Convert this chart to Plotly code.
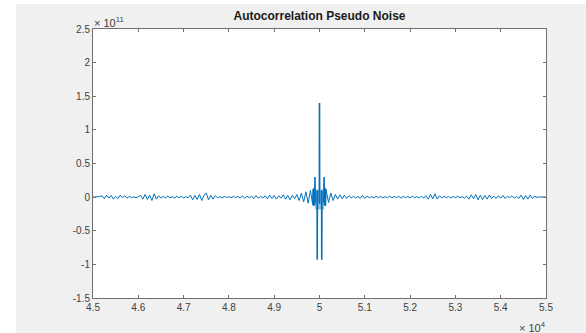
import numpy as np
import plotly.graph_objects as go

# ---- data (values in units of 1e9) ----
left_noise = [0, 0.3, -0.5, 0.8,
              2, -2.5, 3, -1.5, 2.5, -3, 1, -2, 3, -1, 2, -1.5,
              1, -0.8, 0.5, -1, 0.8,
              2.5, -3, 4, -3.5, 3,
              -5, 5, -3, 2,
              -1.5, 1, -1.2, 1.5, -1, 0.8, -1.5, 1.2, -0.8, 1, -1.2, 0.8, -1,
              3, -4, 2.5, -3.5, 4, -5, 3, 6, -4, 3, -3, 2,
              -1, 0.8, -1.2, 1, -0.6, 0.8, -1, 1.2, -0.8, 1, -1.5, 2, -1.8, 1.5, -1, 1.2, -2, 2.5, -1.5, 1, -1.2,
              2, -2.5, 3, -2, 2.5, -3, 2, -1.5, 3.5, -3, 2.5, -4, 3, -2.5,
              4, -5, 6, -7, 8, -9, 10,
              -11]
right_noise = [9, -8, 6, -5, 4,
               -3, 3.5, -2.5, 3, -2, 2,
               -1, 1.2, -1.5, 1, -2, 2.5, -2, 1.5,
               -1, 0.8, -1, 1.2, -0.8, 1, -1.2, 0.8, -1, 1.5, -1.2, 1, -0.8, 1.2, -1.5, 1, -0.8, 1, -1.2, 1.5, -1, 0.8, -1.2, 1, -1.5, 2,
               -3, 4, -2.5, 5, -3, 2,
               -1, 1.2, -0.8, 1, -1.5, 1, -0.8, 1.2, -1, 0.8, -1.5, 1.5,
               -3, 3.5, -2.5, 4, -4, 3, -3.5, 2.5, -3, 3, -2,
               1.5, -2, 2, -1.5, 2.5, -2, 1.5, -1, 2, -1.5, 1, -2,
               3, -3.5, 2.5, -3, 3, -2, 1.5,
               -0.5, 0.3, -0.2, 0.2, 0]

left_start, right_start, step = 45000, 50150, 50
center = 50000

band_lags = [-95, -90, -85, -80, -75, -70, -65, -60, -55, -50, -45, -40, -35, -30, -25,
             -20, -15, -10, -5, 0, 5, 10, 15, 20, 25, 30, 35, 40, 45, 50, 55, 60, 65,
             70, 75, 80, 85, 90, 95]
band_vals = [11, -18, 11, -18, 11, -18, 11, -18, 11, -18, 11, -18, 11, -18, 11,
             -18, 11, -18, 11, -18, 11, -18, 11, -18, 11, -18, 11, -18, 11, -18, 11, -18, 11,
             -18, 11, -18, 11, -18, 11]

spike_lags = [-150, -140, -130, -120, -110, -104, -100, -96, None,
              -53, -50, -47, None, -3, 0, 3, None, 47, 50, 53, None,
              96, 100, 104, 110, 120, 130, 140, 150]
spike_vals = [-11, 12, -13, 14, -12, -5, 30, -8, None,
              10, -93, 10, None, -10, 140, -10, None, 10, -93, 10, None,
              -8, 30, -5, -12, 14, -13, 12, 9]

x_ticks = [45000, 46000, 47000, 48000, 49000, 50000, 51000, 52000, 53000, 54000, 55000]
x_labels = ['4.5', '4.6', '4.7', '4.8', '4.9', '5', '5.1', '5.2', '5.3', '5.4', '5.5']
y_ticks = [-1.5e11, -1e11, -0.5e11, 0, 0.5e11, 1e11, 1.5e11, 2e11, 2.5e11]
y_labels = ['-1.5', '-1', '-0.5', '0', '0.5', '1', '1.5', '2', '2.5']

# ---- build arrays ----
scale = 1e9
lx = [left_start + step * i for i in range(len(left_noise))]
rx = [right_start + step * i for i in range(len(right_noise))]
noise_x = np.array(lx + [None] + rx, dtype=float)
noise_y = np.array(left_noise + [None] + right_noise, dtype=float) * scale

band_x = np.array(band_lags, dtype=float) + center
band_y = np.array(band_vals, dtype=float) * scale
spike_x = np.array(spike_lags, dtype=float) + center
spike_y = np.array(spike_vals, dtype=float) * scale

blue = '#0072BD'
fig = go.Figure()
fig.add_trace(go.Scatter(x=band_x, y=band_y, mode='lines',
                         line=dict(color='#8cbde2', width=1), hoverinfo='skip'))
fig.add_trace(go.Scatter(x=noise_x, y=noise_y, mode='lines',
                         line=dict(color=blue, width=1), connectgaps=False))
fig.add_trace(go.Scatter(x=spike_x, y=spike_y, mode='lines',
                         line=dict(color=blue, width=1.6), connectgaps=False))

axis_col = '#707070'
font_col = '#404040'
fam = 'Liberation Sans, Arial, Helvetica, sans-serif'
common = dict(showgrid=False, zeroline=False, showline=True, linecolor=axis_col,
              linewidth=1, mirror='ticks', ticks='inside', ticklen=3,
              tickcolor=axis_col, tickwidth=1,
              tickfont=dict(family=fam, size=10, color=font_col))
fig.update_xaxes(range=[45000, 55000], tickvals=x_ticks, ticktext=x_labels, **common)
fig.update_yaxes(range=[-1.5e11, 2.5e11], tickvals=y_ticks, ticktext=y_labels, **common)

W, H = 586, 333
L, R, T, B = 93, 40, 29, 35
pw, ph = W - L - R, H - T - B

shapes = [
    dict(type='rect', xref='paper', yref='paper', x0=-L / pw - 0.05, x1=(16 - L) / pw,
         y0=-B / ph - 0.05, y1=1 + T / ph + 0.05, fillcolor='white', line=dict(width=0),
         layer='below'),
    dict(type='rect', xref='paper', yref='paper', x0=-L / pw - 0.05, x1=1 + R / pw + 0.05,
         y0=1 + (T - 4) / ph, y1=1 + T / ph + 0.05, fillcolor='white', line=dict(width=0),
         layer='below'),
]

fig.update_layout(
    width=W, height=H, autosize=False,
    margin=dict(l=L, r=R, t=T, b=B),
    paper_bgcolor='#f0f0f0', plot_bgcolor='white',
    showlegend=False,
    shapes=shapes,
    title=dict(text='<b>Autocorrelation Pseudo Noise</b>', x=(L + pw / 2) / W, xanchor='center',
               y=1 - 16 / H, yanchor='middle',
               font=dict(family=fam, size=12, color='#1a1a1a')),
    annotations=[
        dict(text='× 10<sup>11</sup>', xref='paper', yref='paper', x=0, y=1,
             xanchor='left', yanchor='bottom', showarrow=False, xshift=-1, yshift=-2,
             font=dict(family=fam, size=11, color=font_col)),
        dict(text='× 10<sup>4</sup>', xref='paper', yref='paper', x=1, y=-20 / ph,
             xanchor='right', yanchor='top', showarrow=False, xshift=2,
             font=dict(family=fam, size=11, color=font_col)),
    ],
)

fig.write_html('out.html')
